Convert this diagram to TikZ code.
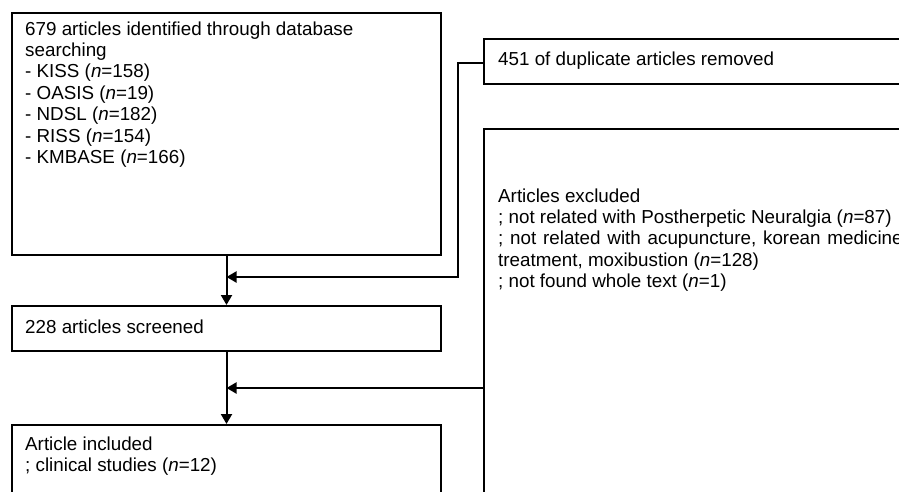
\documentclass[tikz,border=0pt]{standalone}
\usepackage{fontspec}
\setmainfont{Liberation Sans}
\usetikzlibrary{arrows.meta}
\begin{document}
\begin{tikzpicture}[x=1pt,y=-1pt,
  box/.style={draw=black, line width=2pt, rectangle, inner sep=0pt, anchor=north west},
  txt/.style={inner sep=0pt, align=left, font=\fontsize{18.8}{21.4}\selectfont},
  link/.style={line width=2pt, -{Triangle[length=10pt,width=11pt]}}]
\useasboundingbox (0,0) rectangle (899,491);
\clip (0,0) rectangle (899,491);
\fill[white] (0,0) rectangle (899,491);

% left column
\node[box, minimum width=429pt, minimum height=242pt] (ident) at (11,12) {};
\node[txt, anchor=base west] (identtxt) at (25,35) {679 articles identified through database};
\node[txt, anchor=base west] (identtxt2) at (25,56.4) {searching};
\node[txt, anchor=base west] (db1) at (25,77.8) {- KISS (\textit{n}=158)};
\node[txt, anchor=base west] (db2) at (25,99.2) {- OASIS (\textit{n}=19)};
\node[txt, anchor=base west] (db3) at (25,120.6) {- NDSL (\textit{n}=182)};
\node[txt, anchor=base west] (db4) at (25,142) {- RISS (\textit{n}=154)};
\node[txt, anchor=base west] (db5) at (25,163.4) {- KMBASE (\textit{n}=166)};

\node[box, minimum width=429pt, minimum height=45pt] (screened) at (11,305) {};
\node[txt, anchor=base west] (screenedtxt) at (25,333) {228 articles screened};

\node[box, minimum width=429pt, minimum height=110pt] (incl) at (11,424) {};
\node[txt, anchor=base west] (incltxt) at (25,450) {Article included};
\node[txt, anchor=base west] (incltxt2) at (25,471.4) {; clinical studies (\textit{n}=12)};

% right column
\node[box, minimum width=460pt, minimum height=45pt] (dup) at (483,37.5) {};
\node[txt, anchor=base west] (duptxt) at (498,65) {451 of duplicate articles removed};

\node[box, minimum width=460pt, minimum height=400pt] (excl) at (483,128) {};
\node[txt, anchor=base west] (excltxt1) at (498,202) {Articles excluded};
\node[txt, anchor=base west] (excltxt2) at (498,223.4) {; not related with Postherpetic Neuralgia (\textit{n}=87)};
\node[txt, anchor=base west] (excltxt3) at (498,244.8) {\spaceskip=6.8pt ; not related with acupuncture, korean medicine};
\node[txt, anchor=base west] (excltxt4) at (498,266.2) {treatment, moxibustion (\textit{n}=128)};
\node[txt, anchor=base west] (excltxt5) at (498,287.6) {; not found whole text (\textit{n}=1)};

% junctions on the main flow line
\coordinate (j1) at (ident.south |- 0,277);
\coordinate (j2) at (ident.south |- 0,388);
\coordinate (dupout) at (dup.west |- 0,63);
\coordinate (bend) at (458,63);

% main flow
\draw[link] (ident.south) -- (screened.north);
\draw[link] (screened.south) -- (incl.north);

% removals feeding the main flow
\draw[link] (dupout) -- (bend) -- (bend |- j1) -- (j1);
\draw[link] (excl.west |- j2) -- (j2);
\end{tikzpicture}
\end{document}
